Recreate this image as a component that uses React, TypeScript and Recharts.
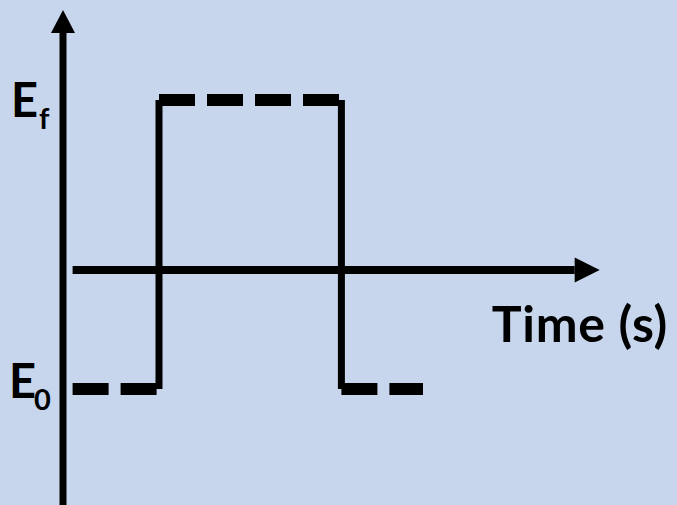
import { ComposedChart, Line, XAxis, YAxis } from 'recharts';

// potential levels and step times
const E_F = 1;
const E_0 = -0.7;
const T_RISE = 1;
const T_FALL = 2.9;
const T_START = 0.1;
const T_END = 3.75;

const baseBefore = [{ t: T_START, e: E_0 }, { t: T_RISE, e: E_0 }];
const pulseTop = [{ t: T_RISE, e: E_F }, { t: T_FALL, e: E_F }];
const baseAfter = [{ t: T_FALL, e: E_0 }, { t: T_END, e: E_0 }];
const riseEdge = [{ t: T_RISE, e: E_0 }, { t: T_RISE, e: E_F }];
const fallEdge = [{ t: T_FALL, e: E_F }, { t: T_FALL, e: E_0 }];

// axis arrows
const potentialAxis = [{ t: 0, e: -1.37 }, { t: 0, e: 1.394 }];
const timeAxis = [{ t: 0.1, e: 0 }, { t: 5.33, e: 0 }];

const yTicks = [E_0, E_F];
const yTickSubs: Record<string, string> = { [E_0]: '0', [E_F]: 'f' };

const FONT = 'Lato, "DejaVu Sans", sans-serif';

function ArrowUp(props: any) {
  const { cx, cy, index } = props;
  if (index !== 1) return <g key={`u${index}`} />;
  return <polygon key="up" points={`${cx},${cy - 23} ${cx - 12},${cy} ${cx + 12},${cy}`} fill="#000" />;
}

function ArrowRight(props: any) {
  const { cx, cy, index } = props;
  if (index !== 1) return <g key={`r${index}`} />;
  return <polygon key="right" points={`${cx + 25},${cy} ${cx},${cy - 12.5} ${cx},${cy + 12.5}`} fill="#000" />;
}

function PotentialTick(props: any) {
  const { y, payload } = props;
  const sub = yTickSubs[String(payload.value)];
  const isF = sub === 'f';
  return (
    <text x={isF ? 11 : 9} y={y + (isF ? 17 : 9)} fontFamily={FONT} fontWeight={700} fontSize={47} fill="#000">
      <tspan>E</tspan>
      <tspan fontSize={isF ? 29 : 29} dy={12} dx={isF ? 1 : -2}>{sub}</tspan>
    </text>
  );
}

export default function App() {
  return (
    <div style={{ position: 'fixed', left: 0, top: 0, width: 677, height: 505, background: '#c7d6ec' }}>
      <ComposedChart width={677} height={505} margin={{ top: 6.5, right: 38, bottom: 2.1, left: 0 }}>
        <XAxis type="number" dataKey="t" domain={[0, 6]} hide />
        <YAxis
          type="number"
          dataKey="e"
          domain={[-1.37, 1.55]}
          ticks={yTicks}
          interval={0}
          width={63}
          axisLine={false}
          tickLine={false}
          tick={<PotentialTick />}
        />
        <Line data={potentialAxis} dataKey="e" stroke="#000" strokeWidth={7} strokeLinecap="square" dot={ArrowUp} activeDot={false} isAnimationActive={false} />
        <Line data={timeAxis} dataKey="e" stroke="#000" strokeWidth={8} dot={ArrowRight} activeDot={false} isAnimationActive={false} />
        <Line data={riseEdge} dataKey="e" stroke="#000" strokeWidth={7} dot={false} activeDot={false} isAnimationActive={false} />
        <Line data={fallEdge} dataKey="e" stroke="#000" strokeWidth={7} dot={false} activeDot={false} isAnimationActive={false} />
        <Line data={baseBefore} dataKey="e" stroke="#000" strokeWidth={12} strokeDasharray="36 12" dot={false} activeDot={false} isAnimationActive={false} />
        <Line data={pulseTop} dataKey="e" stroke="#000" strokeWidth={12} strokeDasharray="36 12" dot={false} activeDot={false} isAnimationActive={false} />
        <Line data={baseAfter} dataKey="e" stroke="#000" strokeWidth={12} strokeDasharray="36 12" dot={false} activeDot={false} isAnimationActive={false} />
        <text x={668} y={342} textAnchor="end" fontFamily={FONT} fontWeight={700} fontSize={50} letterSpacing={0.7} fill="#000">
          Time (s)
        </text>
      </ComposedChart>
    </div>
  );
}
